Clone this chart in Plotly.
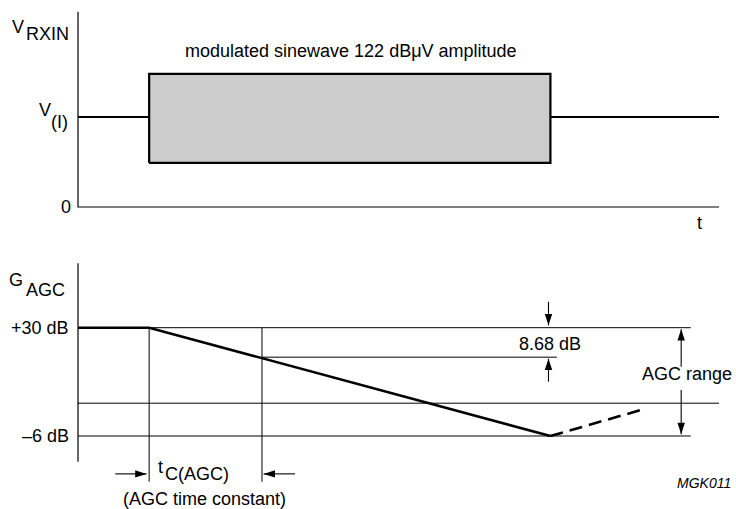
import plotly.graph_objects as go

W, H = 736, 509

# ---------------- data (arbitrary time units, V units, dB) ----------------
# upper panel: received voltage V_RXIN
vrx_t = [0, 11.1, 73.7, 100]          # start, burst on, burst off, end of axis
vrx_level = 1.0                        # V(I) quiescent level
envelope = [0.49, 1.48]                # low / high envelope of modulated sinewave
v_axis_top = 2.17

# lower panel: AGC gain
gain_t = [0, 11.1, 73.7]
gain_db = [30, 30, -6]
recovery_t = [73.7, 88.4]
recovery_db = [-6, 3.0]
tc_t = 28.7          # one AGC time constant after burst start
tc_db = 20.2         # level after one time constant (8.68 dB drop)
mid_ref_db = 4.9
gain_axis_db = [-14.55, 51.4]
ref_end_t = 95.6
tc_ref_end_t = 74.7
guide_bottom_db = -21.2
arrow_868_t = 73.4
arrow_868_tails = [38.6, 12.05]
arrow_range_t = 94.1
arrow_range_tails = [17.0, 9.3]
tc_arrow_db = -18.6
tc_arrow_t = [(5.8, 10.7), (33.85, 28.95)]

# ---------------- scale set-up (pixel layout of the drawing) --------------
X0_PX, PX_PER_T = 78, 6.41
TOP_SPLIT_PX = 235
TOP_ZERO_PX, PX_PER_V = 207, 90.0
G30_PX, PX_PER_DB = 327.7, 3.008

x_range = [-X0_PX / PX_PER_T, (W - X0_PX) / PX_PER_T]
y1_range = [-(TOP_SPLIT_PX - TOP_ZERO_PX) / PX_PER_V, TOP_ZERO_PX / PX_PER_V]
y2_range = [30 - (H - G30_PX) / PX_PER_DB, 30 + (G30_PX - TOP_SPLIT_PX) / PX_PER_DB]
split = 1 - TOP_SPLIT_PX / H

BLACK = "#000000"
FONT = "Liberation Sans, Arial, Helvetica, sans-serif"
FS = 18

fig = go.Figure()

def line(xs, ys, width, sub, dash="solid", **kw):
    fig.add_trace(go.Scatter(
        x=xs, y=ys, mode="lines",
        line=dict(color=BLACK, width=width, dash=dash),
        xaxis="x" if sub == 1 else "x2", yaxis="y" if sub == 1 else "y2",
        hoverinfo="skip", showlegend=False, **kw))

T0, T_ON, T_OFF, T_END = vrx_t
lo, hi = envelope

# ---- upper panel ----
line([T0, T0, T_END], [v_axis_top, 0, 0], 1.2, 1)
line([T_ON, T_ON, T_OFF, T_OFF, T_ON], [lo, hi, hi, lo, lo], 2.2, 1,
     fill="toself", fillcolor="#cccccc")
line([T0, T_ON, None, T_OFF, T_END],
     [vrx_level, vrx_level, None, vrx_level, vrx_level], 2.2, 1)

# ---- lower panel ----
g_max, g_min = gain_db[0], gain_db[-1]
line([T0, T0], gain_axis_db, 1.2, 2)
thin_x = [T_ON, ref_end_t, None,
          tc_t, tc_ref_end_t, None,
          T0, T_END, None,
          T0, ref_end_t, None,
          T_ON, T_ON, None,
          tc_t, tc_t]
thin_y = [g_max, g_max, None,
          tc_db, tc_db, None,
          mid_ref_db, mid_ref_db, None,
          g_min, g_min, None,
          g_max, guide_bottom_db, None,
          g_max, guide_bottom_db]
line(thin_x, thin_y, 1, 2)
line(gain_t, gain_db, 2.6, 2)
line(recovery_t, recovery_db, 2.6, 2, dash="13px,7px")

# arrows: shafts + heads
shaft_x, shaft_y, head_x, head_y, head_a = [], [], [], [], []
def arrow(x_tail, y_tail, x_tip, y_tip, ang):
    shaft_x.extend([x_tail, x_tip, None]); shaft_y.extend([y_tail, y_tip, None])
    head_x.append(x_tip); head_y.append(y_tip); head_a.append(ang)

arrow(arrow_868_t, arrow_868_tails[0], arrow_868_t, g_max + 0.8, 180)
arrow(arrow_868_t, arrow_868_tails[1], arrow_868_t, tc_db - 0.5, 0)
arrow(arrow_range_t, arrow_range_tails[0], arrow_range_t, g_max - 0.5, 0)
arrow(arrow_range_t, arrow_range_tails[1], arrow_range_t, g_min + 0.6, 180)
arrow(tc_arrow_t[0][0], tc_arrow_db, tc_arrow_t[0][1], tc_arrow_db, 90)
arrow(tc_arrow_t[1][0], tc_arrow_db, tc_arrow_t[1][1], tc_arrow_db, 270)
line(shaft_x, shaft_y, 1.1, 2)
fig.add_trace(go.Scatter(
    x=head_x, y=head_y, mode="markers", xaxis="x2", yaxis="y2",
    marker=dict(symbol="arrow", size=12, angle=head_a, color=BLACK,
                line=dict(width=0)),
    hoverinfo="skip", showlegend=False))

# ---------------- text ----------------
def px(xp):
    return xp / W

def py(yp):
    return 1 - yp / H

def label(text, x, y, xanchor="center", yanchor="middle", xref="paper",
          yref="paper", size=FS, italic=False):
    if italic:
        text = "<i>" + text + "</i>"
    fig.add_annotation(text=text, x=x, y=y, xref=xref, yref=yref,
                       xanchor=xanchor, yanchor=yanchor, showarrow=False,
                       borderpad=0,
                       font=dict(family=FONT, size=size, color=BLACK))

label("modulated sinewave 122 dBμV amplitude", px(351), py(51))
label("V", px(24.5), py(27), xanchor="right")
label("RXIN", px(25), py(34), xanchor="left")
label("V", px(37.5), vrx_level + 0.08, xanchor="left", yref="y")
label("(I)", px(50), vrx_level - 0.05, xanchor="left", yref="y")
label("0", px(72), 0, xanchor="right", yref="y")
label("t", px(699), py(223))

label("G", px(24), py(279.5), xanchor="right")
label("AGC", px(25), py(289.5), xanchor="left")
label("+30 dB", px(70), g_max, xanchor="right", yref="y2")
label("–6 dB", px(69.5), g_min, xanchor="right", yref="y2")
label("t", px(156.5), py(466.5), xanchor="left")
label("C(AGC)", px(164), py(474), xanchor="left")
label("(AGC time constant)", px(204), py(498.5))
label("8.68 dB", px(550), py(343.5))
label("AGC range", px(686.5), py(374))
label("MGK011", px(731.5), py(482.5), xanchor="right", size=14, italic=True)

axis_common = dict(visible=False, showgrid=False, zeroline=False,
                   fixedrange=True)
fig.update_layout(
    width=W, height=H, autosize=False,
    margin=dict(l=0, r=0, t=0, b=0, pad=0),
    paper_bgcolor="white", plot_bgcolor="white",
    font=dict(family=FONT, size=FS, color=BLACK),
    xaxis=dict(range=x_range, domain=[0, 1], anchor="y", **axis_common),
    yaxis=dict(range=y1_range, domain=[split, 1], anchor="x", **axis_common),
    xaxis2=dict(range=x_range, domain=[0, 1], anchor="y2", **axis_common),
    yaxis2=dict(range=y2_range, domain=[0, split], anchor="x2", **axis_common),
    showlegend=False,
)

fig.write_html(
    "out.html",
    config={"staticPlot": True},
    post_script="document.body.style.margin='0px';document.body.style.overflow='hidden';",
)
